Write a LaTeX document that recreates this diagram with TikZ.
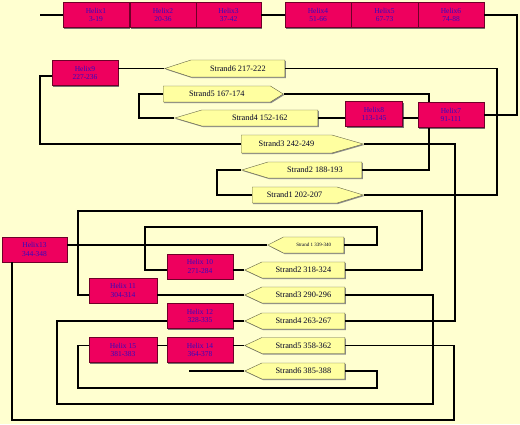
\documentclass[tikz,border=0pt]{standalone}
\usepackage{fontspec}
\setmainfont{Liberation Serif}
\usetikzlibrary{shapes.symbols,shadows}

\definecolor{paper}{RGB}{255,255,208}
\definecolor{helixred}{RGB}{238,0,94}
\definecolor{helixedge}{RGB}{110,0,40}
\definecolor{helixtext}{RGB}{50,10,190}
\definecolor{strandfill}{RGB}{255,255,160}
\definecolor{strandedge}{RGB}{100,100,70}

\begin{document}
\begin{tikzpicture}[x=1pt,y=-1pt,
  helix/.style={rectangle, draw=helixedge, fill=helixred, minimum width=66pt,
    minimum height=25pt, inner sep=0pt, align=center, text=helixtext,
    font=\fontsize{7.5}{8.5}\selectfont,
    drop shadow={shadow xshift=1pt, shadow yshift=-1pt, fill=black!55, opacity=1}},
  strand/.style={signal, draw=strandedge, fill=strandfill, minimum height=16pt,
    inner sep=0pt, text=black!85!blue, font=\fontsize{8.3}{9}\selectfont,
    drop shadow={shadow xshift=1pt, shadow yshift=-1pt, fill=black!45, opacity=1}},
  link/.style={line width=1.5pt, black}]

  % Background
  \fill[paper] (0,0) rectangle (520,424);
  \useasboundingbox (0,0) rectangle (520,424);

  % Chain ends
  \coordinate (nterm) at (40,15);
  \coordinate (cterm) at (189,371);

  % Top row of helices
  \node[helix] (h1) at (96,15) {Helix1\\3-19};
  \node[helix] (h2) at (163,15) {Helix2\\20-36};
  \node[helix, minimum width=65pt] (h3) at (228.5,15) {Helix3\\37-42};
  \node[helix] (h4) at (318,15) {Helix4\\51-66};
  \node[helix, minimum width=67pt] (h5) at (384.5,15) {Helix5\\67-73};
  \node[helix] (h6) at (451,15) {Helix6\\74-88};

  % First sheet
  \node[helix] (h7) at (451,115) {Helix7\\91-111};
  \node[helix, minimum width=57pt] (h8) at (374,114) {Helix8\\113-145};
  \node[helix] (h9) at (85,73) {Helix9\\227-236};
  \node[strand, signal to=west, minimum width=120pt, signal pointer angle=36,
    minimum height=17pt, anchor=east] (s6) at (285,68.5) {Strand6 217-222};
  \node[strand, signal to=east, minimum width=120pt, signal pointer angle=64,
    anchor=west] (s5) at (163,94) {Strand5 167-174};
  \node[strand, signal to=west, minimum width=143pt, signal pointer angle=33,
    anchor=east] (s4) at (318,118) {Strand4 152-162};
  \node[strand, signal to=east, minimum width=122pt, signal pointer angle=32,
    minimum height=18pt, anchor=west] (s3) at (241,144) {Strand3 242-249};
  \node[strand, signal to=west, minimum width=120pt, signal pointer angle=34,
    anchor=east] (s2) at (362,170) {Strand2 188-193};
  \node[strand, signal to=east, minimum width=111pt, signal pointer angle=34,
    anchor=west] (s1) at (252,195) {Strand1 202-207};

  % Second sheet
  \node[helix, minimum width=65pt] (h13) at (34.5,249.5) {Helix13\\344-348};
  \node[helix] (h10) at (200,266.5) {Helix 10\\271-284};
  \node[helix, minimum width=68pt] (h11) at (123,290.5) {Helix 11\\304-314};
  \node[helix] (h12) at (200,316) {Helix 12\\328-335};
  \node[helix] (h14) at (200,350) {Helix 14\\364-378};
  \node[helix, minimum width=68pt] (h15) at (123,350) {Helix 15\\381-383};
  \node[strand, signal to=west, minimum width=76pt, signal pointer angle=54,
    anchor=east, font=\fontsize{5}{6}\selectfont] (s1b) at (344,245) {Strand 1 339-340};
  \node[strand, signal to=west, minimum width=100pt, signal pointer angle=50,
    anchor=east] (s2b) at (345,270) {Strand2 318-324};
  \node[strand, signal to=west, minimum width=100pt, signal pointer angle=50,
    anchor=east] (s3b) at (345,295) {Strand3 290-296};
  \node[strand, signal to=west, minimum width=100pt, signal pointer angle=50,
    anchor=east] (s4b) at (345,321) {Strand4 263-267};
  \node[strand, signal to=west, minimum width=100pt, signal pointer angle=50,
    anchor=east] (s5b) at (345,345.5) {Strand5 358-362};
  \node[strand, signal to=west, minimum width=100pt, signal pointer angle=50,
    anchor=east] (s6b) at (345,371) {Strand6 385-388};

  % Connections, first part
  \draw[link] (nterm) -- (h1.west);
  \draw[link] (h3.east) -- (h4.west);
  \draw[link] (h6.east) -- ++(33,0) |- (h7.east);
  \draw[link] (h7.west |- s4.east) -- (h8.east |- s4.east);
  \draw[link] (h8.west |- s4.east) -- (s4.east);
  \draw[link] (s4.west) -- ++(-35,0) |- (s5.west);
  \draw[link] (s5.east) -| ([xshift=-22pt]h7.north);
  \draw[link] ([xshift=-22pt]h7.south) |- (s2.east);
  \draw[link] (s2.west) -- ++(-24,0) |- (s1.west);
  \draw[link] (s1.east) -- ++(133,0) |- (s6.east);
  \draw[link] (s6.west) -- (s6.west -| h9.east);
  \draw[link] ([yshift=-3pt]h9.west) -- ++(-12,0) |- (s3.west);
  \draw[link] (s3.east) -- ++(91,0) |- (s4b.east);

  % Connections, second part
  \draw[link] (s4b.west) -- (s4b.west -| h12.east);
  \draw[link] (h12.west |- s4b.west) -- ++(-110,0) |- (433,404) |- (s3b.east);
  \draw[link] (s3b.west) -- (s3b.west -| h11.east);
  \draw[link] (h11.west |- s3b.west) -- ++(-11,0) |- (422,211) |- (s2b.east);
  \draw[link] (s2b.west) -- (s2b.west -| h10.east);
  \draw[link] (h10.west |- s2b.west) -- ++(-22,0) |- (377,227) |- (s1b.east);
  \draw[link] (s1b.west) -- (s1b.west -| h13.east);
  \draw[link] ([xshift=-22.5pt]h13.south) |- (454,420) |- (s5b.east);
  \draw[link] (s5b.west) -- (s5b.west -| h14.east);
  \draw[link] (h14.west |- s5b.west) -- (h15.east |- s5b.west);
  \draw[link] (h15.west |- s5b.west) -- ++(-11,0) |- (377,388) |- (s6b.east);
  \draw[link] (s6b.west) -- (cterm);

\end{tikzpicture}
\end{document}
